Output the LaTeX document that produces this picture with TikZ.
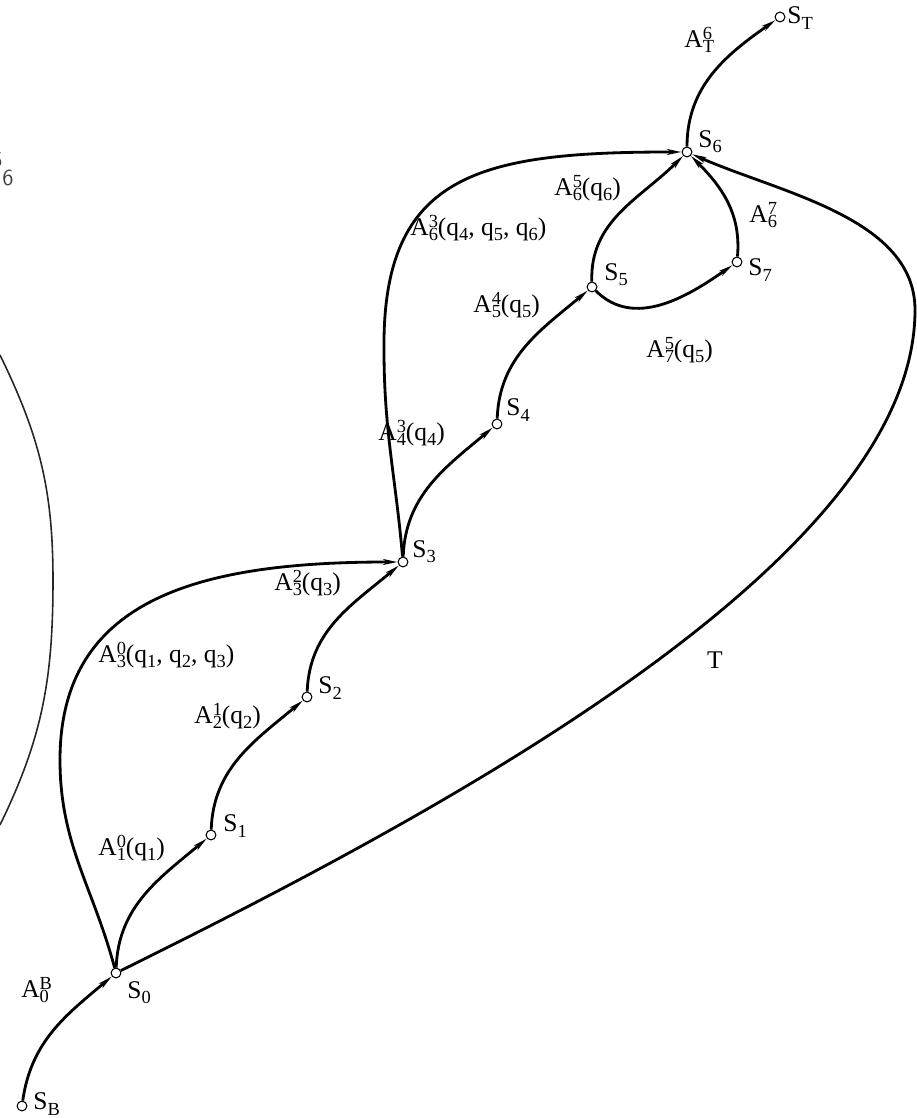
\documentclass[tikz,border=0pt]{standalone}
\usepackage{fontspec}
\setmainfont{Liberation Serif}
\usetikzlibrary{arrows.meta}
\newcommand\lo[1]{\raisebox{-0.45ex}{\fontsize{10.5}{10.5}\selectfont#1}}
\newcommand\hilo[2]{\raisebox{-0.45ex}{\fontsize{10.5}{10.5}\selectfont\vbox{\offinterlineskip\hbox{#1}\kern0.8pt\hbox{#2}}}}
\tikzset{
	state/.style={circle, draw, fill=white, inner sep=0pt, minimum size=5.6pt, line width=0.6pt},
	lab/.style={anchor=west, inner sep=0pt, font=\fontsize{14.5}{17}\selectfont},
	arc/.style={line width=1.6pt, -{Stealth[length=8pt, width=3.2pt, inset=2pt]}},
	plain/.style={line width=1.6pt}
}

\begin{document}
\begin{tikzpicture}[x=0.02cm, y=0.02cm]
		%%%%% START %%%%%
		
		\useasboundingbox (0, 0) rectangle (916, 1118);
		
		% faint leftovers at the left edge
		\draw[line width=0.9pt, color=black!85] (0, 763) to[out=-64, in=90] (53, 538) to[out=-90, in=64] (0, 293);
		\node[inner sep=0pt, color=black!75, font=\fontsize{13}{13}\sffamily] (frag5) at (-3, 958) {5};
		\node[inner sep=0pt, color=black!75, font=\fontsize{13}{13}\sffamily] (frag6) at (8, 940) {6};
		
		\node[state] (sb) at (22, 12) {};
		\node[state] (s0) at (116, 145) {};
		\node[state] (s1) at (211, 283) {};
		\node[state] (s2) at (307, 421) {};
		\node[state] (s3) at (403, 556) {};
		\node[state] (s4) at (497, 694) {};
		\node[state] (s5) at (592, 831) {};
		\node[state] (s7) at (737, 856) {};
		\node[state] (s6) at (687, 966) {};
		\node[state] (st) at (780, 1101) {};
		
		\draw[arc] (sb) to[out=82, in=220] (s0);
		\draw[arc] (s0) to[out=88, in=220] (s1);
		\draw[arc] (s1) to[out=88, in=220] (s2);
		\draw[arc] (s2) to[out=88, in=220] (s3);
		\draw[arc] (s3) to[out=88, in=220] (s4);
		\draw[arc] (s4) to[out=88, in=220] (s5);
		
		\coordinate (west3) at (60, 358);
		\coordinate (west6) at (384, 768);
		\coordinate (east6) at (915, 808);
		\draw[plain] (s0) to[out=105, in=-90] (west3);
		\draw[arc] (west3) .. controls (60, 520) and (200, 556) .. (s3);
		\draw[plain] (s3) to[out=95, in=-90] (west6);
		\draw[arc] (west6) .. controls (382, 945) and (480, 966) .. (s6);
		
		\draw[arc] (s5) to[out=92, in=225] (s6);
		\draw[arc] (s5) to[out=-45, in=215] (s7);
		\draw[arc] (s7) to[out=85, in=-45] (s6);
		
		\draw[plain] (s0) .. controls (450, 310) and (915, 560) .. (east6);
		\draw[arc] (east6) .. controls (915, 900) and (780, 925) .. (s6);
		
		\draw[arc] (s6) to[out=90, in=215] (st);
		
		\node[lab] (lsb) at (33, 14) {S\lo{B}};
		\node[lab] (ls0) at (127, 125) {S\lo{0}};
		\node[lab] (ls1) at (223, 292) {S\lo{1}};
		\node[lab] (ls2) at (318, 430) {S\lo{2}};
		\node[lab] (ls3) at (412, 566) {S\lo{3}};
		\node[lab] (ls4) at (506, 708) {S\lo{4}};
		\node[lab] (ls5) at (604, 843) {S\lo{5}};
		\node[lab] (ls7) at (748, 848) {S\lo{7}};
		\node[lab] (ls6) at (698, 976) {S\lo{6}};
		\node[lab] (lst) at (787, 1100) {S\lo{T}};
		
		\node[lab] (a0b) at (21, 128) {A\hilo{B}{0}};
		\node[lab] (a10) at (98, 270) {A\hilo{0}{1}(q\lo{1})};
		\node[lab] (a21) at (194, 402) {A\hilo{1}{2}(q\lo{2})};
		\node[lab] (a32) at (274, 535) {A\hilo{2}{3}(q\lo{3})};
		\node[lab] (a30) at (98, 463) {A\hilo{0}{3}(q\lo{1}, q\lo{2}, q\lo{3})};
		\node[lab] (a43) at (378, 685) {A\hilo{3}{4}(q\lo{4})};
		\node[lab] (a54) at (473, 813) {A\hilo{4}{5}(q\lo{5})};
		\node[lab] (a63) at (410, 890) {A\hilo{3}{6}(q\lo{4}, q\lo{5}, q\lo{6})};
		\node[lab] (a65) at (554, 930) {A\hilo{5}{6}(q\lo{6})};
		\node[lab] (a67) at (749, 903) {A\hilo{7}{6}};
		\node[lab] (a75) at (646, 768) {A\hilo{5}{7}(q\lo{5})};
		\node[lab] (at6) at (684, 1078) {A\hilo{6}{T}};
		\node[lab, anchor=center] (tlab) at (715, 458) {T};
		
		%%%%% END %%%%%
\end{tikzpicture}
\end{document}
